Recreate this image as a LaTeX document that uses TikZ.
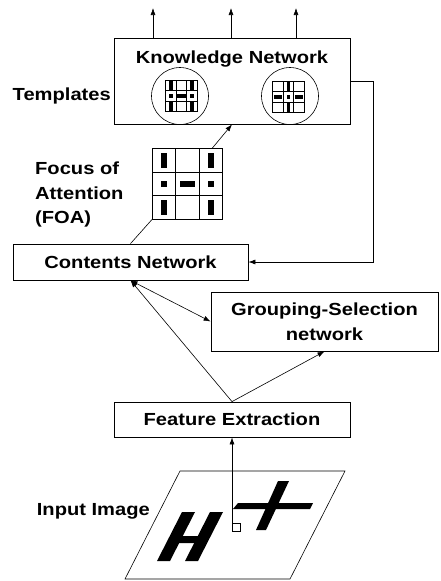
\documentclass[tikz,border=0pt]{standalone}
\usepackage{fontspec}
\setmainfont{Liberation Sans}[FakeStretch=1.15]
\usetikzlibrary{arrows.meta,calc}

% 3x3 cell grid centred at #1 with cell size #2 (pt); #3 holds the marks
\newcommand\cellgrid[3]{%
  \begin{scope}[shift={#1},x=#2pt,y=-#2pt]
    \foreach \k in {-1.5,-0.5,0.5,1.5}{
      \draw[gridline] (\k,-1.5) -- (\k,1.5);
      \draw[gridline] (-1.5,\k) -- (1.5,\k);
    }
    #3
  \end{scope}}
% half width / half length / half dot size of the marks, in cell units
\def\mw{0.11}\def\ml{0.34}\def\md{0.14}
\newcommand\vseg[2]{\fill (#1-\mw,#2-\ml) rectangle (#1+\mw,#2+\ml);}
\newcommand\hseg[2]{\fill (#1-\ml,#2-\mw) rectangle (#1+\ml,#2+\mw);}
\newcommand\dotsq[2]{\fill (#1-\md,#2-\md) rectangle (#1+\md,#2+\md);}
\newcommand\Hmarks{\vseg{-1}{-1}\vseg{1}{-1}\dotsq{-1}{0}\hseg{0}{0}\dotsq{1}{0}\vseg{-1}{1}\vseg{1}{1}}
\newcommand\Plusmarks{\vseg{0}{-1}\hseg{-1}{0}\dotsq{0}{0}\hseg{1}{0}\vseg{0}{1}}

\begin{document}
\begin{tikzpicture}[x=1pt,y=-1pt,
  lbl/.style={font=\fontsize{17.5}{24.5}\selectfont\bfseries},
  box/.style={draw,line width=0.8pt,inner sep=0pt,lbl},
  conn/.style={line width=0.6pt},
  arr/.style={conn,-{Latex[length=7pt,width=5pt]}},
  dbl/.style={conn,{Latex[length=7pt,width=5pt]}-{Latex[length=7pt,width=5pt]}},
  gridline/.style={line width=0.6pt},
  tmpl/.style={draw,circle,minimum size=57pt,inner sep=0pt,line width=0.6pt}]
\useasboundingbox (0,0) rectangle (440,581);

% Knowledge network with its templates
\node[box,minimum width=236pt,minimum height=86pt] (kn) at (232,81) {};
\node[lbl,anchor=base,inner sep=0pt] (kntitle) at (232,63) {Knowledge Network};
\node[tmpl] (t1) at (180,96) {};
\node[tmpl] (t2) at (290,96) {};
\cellgrid{(181.5,96)}{10.5}{\def\mw{0.15}\def\ml{0.4}\def\md{0.17}\Hmarks}
\cellgrid{(288.5,97)}{10.5}{\def\mw{0.15}\def\ml{0.4}\def\md{0.17}\Plusmarks}
\node[lbl,anchor=base east,inner sep=0pt] (tpl) at (111,100) {Templates};

\coordinate (o1) at (153,8);
\coordinate (o2) at (231,8);
\coordinate (o3) at (296,8);
\draw[arr] (kn.north -| o1) -- (o1);
\draw[arr] (kn.north -| o2) -- (o2);
\draw[arr] (kn.north -| o3) -- (o3);

% Focus of attention
\node[draw,minimum size=70.5pt,inner sep=0pt,line width=0.6pt] (foa) at (187.5,184) {};
\cellgrid{(187.5,184)}{23.5}{\Hmarks}
\node[lbl,align=left,anchor=north west,inner sep=0pt] (foatxt) at (35,162) {Focus of\\Attention\\(FOA)};

% Lower boxes
\node[box,minimum width=235pt,minimum height=36pt] (cn) at (130.5,262) {Contents Network};
\node[box,minimum width=227pt,minimum height=59pt,align=center] (gs) at (324.5,321.5) {Grouping-Selection\\network};
\node[box,minimum width=236pt,minimum height=35pt] (fe) at (232,419.5) {Feature Extraction};

% Input image
\draw[line width=0.6pt] (180,471) -- (345,471) -- (290,579) -- (125,579) -- cycle;
\fill (182,512) -- (195,512) -- (170,561) -- (157,561) -- cycle;
\fill (210,512) -- (223,512) -- (198,561) -- (185,561) -- cycle;
\fill (178,536) -- (205,536) -- (202,543) -- (175,543) -- cycle;
\fill (238,503) -- (313,503) -- (310,509) -- (233,509) -- cycle;
\fill (278,481) -- (289,481) -- (266,530) -- (256,530) -- cycle;
\node[draw,fill=white,minimum size=8pt,inner sep=0pt,line width=0.6pt,anchor=north west] (px) at (232,523) {};
\node[lbl,anchor=base east,inner sep=0pt] (inp) at (150,515) {Input Image};

% Connectors
\coordinate (foaout) at ($(foa.north east)+(-11,0)$);
\draw[conn] (cn.north) -- (foa.south west);
\draw[arr] (foaout) -- (kn.south);
\draw[arr] (kn.east) -- ++(23,0) |- (cn.east);
\draw[dbl] (cn.south) -- (gs.west);
\draw[arr] (fe.north) -- (cn.south);
\draw[arr] (fe.north) -- (gs.south);
\draw[arr] (px.north west) -- (px.north west |- fe.south);
\end{tikzpicture}
\end{document}
